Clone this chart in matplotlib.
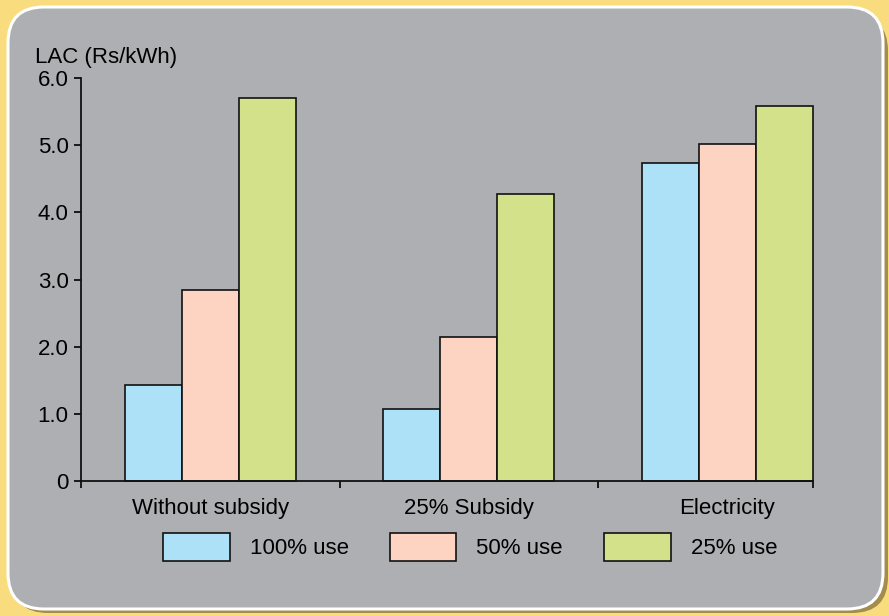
import matplotlib
matplotlib.use('Agg')
import matplotlib.pyplot as plt
from matplotlib.patches import FancyBboxPatch
import numpy as np

plt.rcParams['font.family'] = ['Liberation Sans', 'DejaVu Sans']

categories = ['Without subsidy', '25% Subsidy', 'Electricity']
series = ['100% use', '50% use', '25% use']
use_100 = [1.43, 1.07, 4.73]
use_50 = [2.84, 2.14, 5.01]
use_25 = [5.70, 4.27, 5.58]
colors = ['#ade1f8', '#fdd3c2', '#d3e18a']
yticks = [0, 1, 2, 3, 4, 5, 6]
ytick_labels = ['0', '1.0', '2.0', '3.0', '4.0', '5.0', '6.0']

W, H = 889, 616
fs = 16
fig = plt.figure(figsize=(W / 100, H / 100), dpi=100)
fig.patch.set_facecolor('#f9dc7e')

# background panel drawn in pixel units
bg = fig.add_axes([0, 0, 1, 1])
bg.set_xlim(0, W)
bg.set_ylim(0, H)
bg.axis('off')
shadow = FancyBboxPatch((12, 3), 876, 598, boxstyle='round,pad=0,rounding_size=36',
                        facecolor='#a38c4c', edgecolor='none')
bg.add_patch(shadow)
panel = FancyBboxPatch((8, 7), 875, 602, boxstyle='round,pad=0,rounding_size=36',
                       facecolor='#aeafb3', edgecolor='white', linewidth=2.2)
bg.add_patch(panel)

ax = fig.add_axes([81 / W, (H - 481) / H, (813 - 81) / W, (481 - 78) / H])
ax.set_facecolor('none')

w = 0.221
x = np.arange(len(categories))
bars = []
for i, vals in enumerate([use_100, use_50, use_25]):
    b = ax.bar(x + (i - 1) * w, vals, width=w, color=colors[i],
               edgecolor='#111111', linewidth=1.2, label=series[i], clip_on=False)
    bars.append(b)

ax.set_ylim(0, 6)
ax.set_xlim(-0.5, 2 + 1.5 * w)
ax.set_yticks(yticks)
ax.set_yticklabels(ytick_labels)
ax.set_xticks(x)
ax.set_xticklabels(categories)
ax.set_xticks([-0.5, 0.5, 1.5, 2 + 1.5 * w], minor=True)
ax.tick_params(axis='x', which='major', length=0, pad=12, labelsize=fs)
ax.tick_params(axis='x', which='minor', length=5, width=1.2, direction='out')
ax.tick_params(axis='y', length=5, width=1.2, pad=4, labelsize=fs)
for s in ['top', 'right']:
    ax.spines[s].set_visible(False)
for s in ['left', 'bottom']:
    ax.spines[s].set_linewidth(1.3)
    ax.spines[s].set_color('#111111')

fig.text(35 / W, (H - 57) / H, 'LAC (Rs/kWh)', fontsize=fs, va='center', ha='left')

leg = fig.legend(handles=[b[0] for b in bars], labels=series, ncol=3,
                 loc='center', bbox_to_anchor=(470 / W, (H - 547) / H),
                 frameon=False, fontsize=fs, handlelength=3.0, handleheight=1.6,
                 handletextpad=0.9, columnspacing=1.85)

fig.savefig('out.png', dpi=100, facecolor=fig.get_facecolor())
